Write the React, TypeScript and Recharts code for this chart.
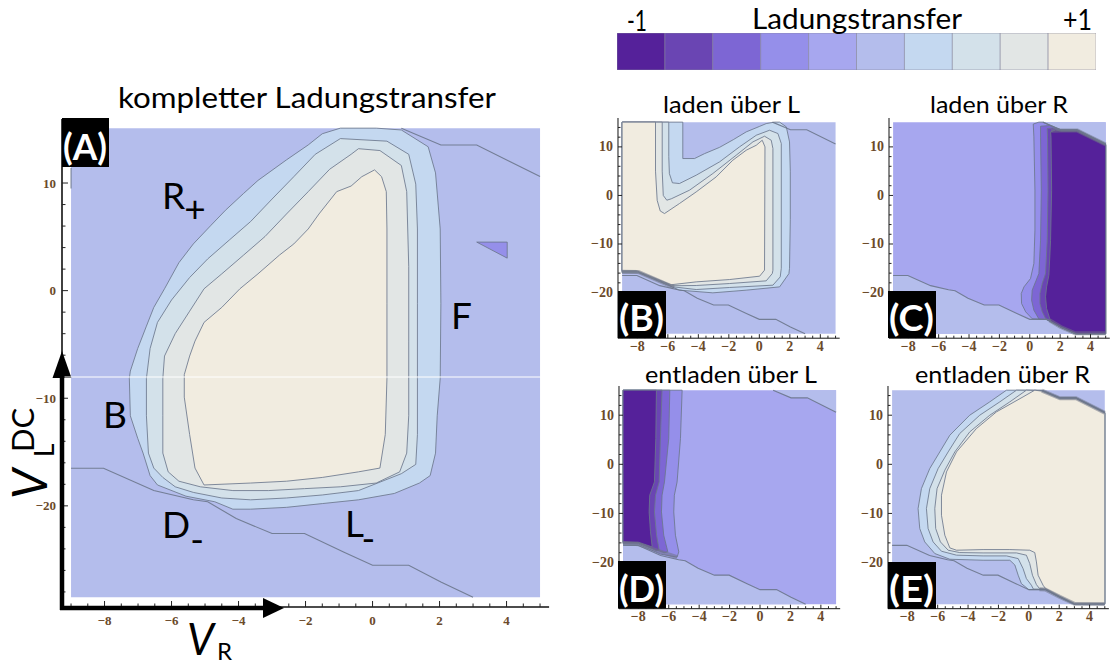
import React from 'react';
import { ScatterChart, Scatter, XAxis, YAxis, BarChart, Bar, Cell } from 'recharts';

type P = [number, number];
type Layer = { pts: P[]; level: number; edge: boolean };
type Box = { left: number; top: number; width: number; height: number };

// ---------- colour scale (Ladungstransfer -1 .. +1, 10 steps) ----------
const LEVEL_COLORS = ['#55219a', '#6a45b3', '#7d66d4', '#958fea', '#a7a7ef', '#b4bdec', '#c4d8f0', '#d3e1ea', '#e2e6e5', '#f1ece0'];
const COLORBAR_MIDS = [-0.9, -0.7, -0.5, -0.3, -0.1, 0.1, 0.3, 0.5, 0.7, 0.9];

// ---------- axes ----------
const X_DOMAIN: [number, number] = [-9.27, 5.27];
const Y_DOMAIN: [number, number] = [-29.4, 15.95];
const X_TICKS = [-9, -8.5, -8, -7.5, -7, -6.5, -6, -5.5, -5, -4.5, -4, -3.5, -3, -2.5, -2, -1.5, -1, -0.5, 0, 0.5, 1, 1.5, 2, 2.5, 3, 3.5, 4, 4.5, 5];
const X_MAJOR = [-8, -6, -4, -2, 0, 2, 4];
const Y_TICKS = [-28, -26, -24, -22, -20, -18, -16, -14, -12, -10, -8, -6, -4, -2, 0, 2, 4, 6, 8, 10, 12, 14];
const Y_MAJOR = [-20, -10, 0, 10];

// ---------- shared geometry (V_R, V_L^DC) ----------
const FILL_RECT: P[] = [[-9, 15.1], [5, 15.1], [5, -28.5], [-9, -28.5]];
const LOWER_LINE: P[] = [[-9, -16.5], [-8.03, -16.5], [-6.53, -18.58], [-5.35, -19.44], [-4.92, -19.62], [-4.07, -21.18], [-3.0, -22.57], [-2.03, -22.57], [-0.85, -24.31], [0.0, -25.52], [1.08, -25.52], [2.04, -27.08], [3.0, -28.5]];
const UPPER_LINE: P[] = [[0.86, 15.1], [2.04, 13.54], [3.11, 13.54], [5, 10.6]];
const LOWER_REGION: P[] = [[-9, -16.5], [-8.03, -16.5], [-6.53, -18.58], [-5.35, -19.44], [-4.92, -19.62], [-4.07, -21.18], [-3.0, -22.57], [-2.03, -22.57], [-0.85, -24.31], [0.0, -25.52], [1.08, -25.52], [2.04, -27.08], [3.0, -28.5], [-9, -28.5]];
const UPPER_REGION: P[] = [[0.86, 15.1], [2.04, 13.54], [3.11, 13.54], [5, 10.6], [5, 15.1]];

// ---------- (A) kompletter Ladungstransfer ----------
const A_RING1: P[] = [[-0.96, 15.1], [0.11, 15.1], [0.86, 14.93], [1.66, 13.37], [1.88, 10.94], [2.02, 5.73], [2.04, -1.22], [2.02, -8.16], [1.93, -11.63], [1.88, -15.1], [1.72, -17.19], [1.4, -17.88], [0.65, -18.85], [-0.42, -19.44], [-1.5, -19.79], [-2.57, -20.14], [-3.64, -20.31], [-4.17, -20.31], [-4.71, -19.62], [-5.57, -19.1], [-6.42, -18.06], [-6.64, -17.19], [-6.85, -15.1], [-7.01, -13.72], [-7.23, -11.63], [-7.26, -8.16], [-7.23, -7.47], [-7.01, -5.38], [-6.75, -3.3], [-6.53, -1.56], [-6.21, 0.17], [-5.78, 2.6], [-5.35, 4.34], [-4.82, 6.08], [-4.39, 7.47], [-3.85, 9.03], [-3.42, 10.24], [-2.57, 12.15], [-1.92, 13.54], [-1.5, 14.58]];
const A_RING2: P[] = [[-0.96, 14.13], [0.43, 13.89], [1.08, 12.67], [1.29, 9.9], [1.34, 5.73], [1.34, -1.22], [1.34, -8.16], [1.34, -13.37], [1.29, -16.15], [0.86, -17.01], [-0.42, -18.58], [-1.5, -18.99], [-2.57, -19.27], [-3.64, -19.44], [-4.5, -19.27], [-5.35, -18.75], [-5.89, -18.23], [-6.26, -17.36], [-6.53, -16.49], [-6.69, -15.1], [-6.75, -11.63], [-6.75, -8.16], [-6.64, -5.38], [-6.42, -2.95], [-6.0, -0.87], [-5.46, 1.22], [-4.92, 2.95], [-4.28, 4.69], [-3.64, 6.42], [-3.0, 8.51], [-2.35, 10.59], [-1.71, 12.67]];
const A_RING3: P[] = [[-0.42, 13.19], [0.22, 13.02], [0.86, 11.63], [1.02, 9.2], [1.08, 2.26], [1.08, -4.69], [1.08, -11.63], [1.02, -15.1], [0.81, -16.84], [0.11, -17.88], [-0.96, -18.23], [-2.03, -18.4], [-3.1, -18.58], [-4.17, -18.58], [-5.14, -18.23], [-5.78, -17.71], [-6.1, -16.84], [-6.26, -15.1], [-6.26, -11.63], [-6.26, -8.16], [-6.21, -6.08], [-5.89, -3.99], [-5.46, -1.91], [-5.03, 0.17], [-4.5, 1.56], [-3.85, 3.3], [-3.21, 5.03], [-2.57, 7.12], [-1.92, 9.2], [-1.28, 11.28], [-0.64, 12.67]];
const A_CORE: P[] = [[0.06, 11.22], [0.27, 10.59], [0.41, 9.2], [0.43, 5.73], [0.43, -1.22], [0.43, -8.16], [0.38, -13.37], [0.22, -16.49], [-0.42, -16.84], [-1.5, -17.36], [-2.57, -17.71], [-3.64, -17.88], [-5.03, -18.06], [-5.3, -16.49], [-5.46, -13.37], [-5.62, -9.9], [-5.62, -7.81], [-5.46, -6.08], [-5.3, -4.69], [-5.03, -2.95], [-4.5, -1.56], [-3.96, 0.17], [-3.42, 1.56], [-2.78, 3.3], [-2.35, 4.34], [-1.92, 5.73], [-1.6, 7.12], [-1.07, 9.2], [-0.64, 9.72], [-0.32, 10.59]];
const A_TRIANGLE: P[] = [[3.11, 4.51], [4.02, 4.51], [4.02, 3.02]];
const A_EDGE_LINE: P[] = [[-9, 11.4], [-9, 9.5]];

// ---------- (B) laden über L ----------
const B_L1: P[] = [[-9, 15.1], [-5.02, 15.1], [-5.02, 7.6], [-4.25, 7.6], [-3.6, 8.6], [-2.61, 9.9], [-1.7, 11.5], [-0.86, 13.09], [0.0, 14.2], [0.45, 14.8], [1.0, 15.1], [1.33, 15.1], [1.77, 14.12], [1.98, 11.03], [2.03, 5], [2.03, -5], [1.98, -15], [1.94, -16.1], [1.33, -18.83], [-0.86, -19.51], [-3.05, -20.06], [-5.24, -19.51], [-5.6, -19.0], [-7.9, -15.95], [-9, -15.95]];
const B_L2: P[] = [[-9, 15.1], [-5.94, 15.1], [-5.94, 8], [-5.9, 4.5], [-5.7, 2.6], [-5.24, 2.45], [-4.14, 4.17], [-2.61, 6.91], [-1.3, 10], [-0.2, 12.4], [0.67, 13.43], [1.22, 12.75], [1.44, 10.69], [1.44, -15], [1.37, -16.77], [0.89, -18.48], [-1.95, -18.96], [-4.14, -19.38], [-5.7, -18.8], [-7.95, -15.8], [-9, -15.8]];
const B_L3: P[] = [[-9, 15.1], [-6.37, 15.1], [-6.37, 5], [-6.3, 0], [-6.07, -0.98], [-5.78, -0.7], [-4.58, 1.08], [-3.05, 4.51], [-1.52, 8.28], [-0.42, 11.03], [0.34, 12.2], [0.78, 11.37], [0.89, 9.66], [0.89, -15.4], [0.85, -16.08], [0.45, -17.59], [-1.95, -18.14], [-4.14, -18.55], [-5.75, -18.6], [-8.0, -15.65], [-9, -15.65]];
const B_L4: P[] = [[-9, 15.1], [-6.81, 15.1], [-6.81, 5], [-6.7, -1], [-6.5, -3.2], [-6.22, -3.73], [-5.24, -1.67], [-4.14, 0.73], [-2.83, 3.82], [-1.74, 7.25], [-0.86, 9.31], [-0.2, 10.34], [0.19, 11.37], [0.37, 10], [0.34, -15.39], [0.02, -16.63], [-1.95, -17.32], [-4.14, -17.8], [-5.8, -18.4], [-8.05, -15.5], [-9, -15.5]];
const B_BAND: P[] = [[-9, -15.7], [-7.95, -15.75], [-5.6, -18.95]];

// ---------- (C) laden über R ----------
const C_L4: P[] = [[0.23, 14.7], [0.6, 15.1], [0.86, 15.1], [2.04, 13.54], [3.11, 13.54], [5, 10.6], [5, -28.5], [3, -28.5], [2.04, -27.08], [1.08, -25.52], [0.16, -25.4], [-0.27, -23.97], [-0.54, -22.26], [-0.56, -20.2], [-0.38, -18.83], [0.05, -17.11], [0.27, -14.02], [0.34, -7.16], [0.34, 1.08], [0.27, 12.06]];
const C_L3: P[] = [[0.71, 14.26], [1.3, 14.4], [2.04, 13.45], [3.11, 13.45], [5, 10.5], [5, -28.5], [3, -28.5], [2.04, -27.08], [1.08, -25.52], [0.6, -25.45], [0.27, -23.63], [0.12, -21.57], [0.16, -19.51], [0.38, -17.8], [0.6, -16.08], [0.71, -9.22], [0.76, 1.08], [0.71, 12]];
const C_L2: P[] = [[1.15, 13.77], [1.5, 13.9], [2.04, 13.4], [3.11, 13.4], [5, 10.45], [5, -28.5], [3.05, -28.5], [2.04, -27.15], [1.3, -25.65], [1.04, -25.35], [0.82, -23.97], [0.67, -22.26], [0.67, -20.2], [0.82, -18.14], [1.04, -16.08], [1.15, -9.22], [1.2, 1.08], [1.17, 12]];
const C_L1: P[] = [[1.37, 13.09], [1.7, 13.5], [2.04, 13.25], [3.11, 13.25], [5, 10.35], [5, -28.5], [3.1, -28.5], [2.1, -27.3], [1.37, -25.9], [1.11, -23.29], [1.04, -20.88], [1.11, -18.83], [1.26, -16.42], [1.37, -9.22], [1.44, 1.08], [1.4, 12]];
const C_BAND_TOP: P[] = [[1.4, 13.3], [2.04, 13.4], [3.11, 13.4], [5, 10.5]];
const C_BAND_BOTTOM: P[] = [[1.3, -25.7], [2.04, -27.1], [3.0, -28.4], [5, -28.4]];

// ---------- (D) entladen über L ----------
const D_L4: P[] = [[-9, 15.1], [-5.12, 15.1], [-5.23, 5.25], [-5.45, -3.58], [-5.63, -6.29], [-5.67, -9.69], [-5.56, -14.44], [-5.34, -17.83], [-5.45, -18.9], [-6.53, -18.3], [-8.0, -16.25], [-9, -16.2]];
const D_L3: P[] = [[-9, 15.1], [-5.93, 15.1], [-6.0, 5.25], [-6.28, -3.58], [-6.44, -6.29], [-6.48, -9.69], [-6.33, -14.44], [-6.06, -17.83], [-6.3, -18.0], [-8.0, -16.1], [-9, -16.05]];
const D_L2: P[] = [[-9, 15.1], [-6.44, 15.1], [-6.55, 5.25], [-6.63, -3.58], [-6.87, -6.29], [-6.94, -9.69], [-6.8, -14.44], [-6.63, -17.49], [-6.8, -17.6], [-8.0, -15.95], [-9, -15.95]];
const D_L1: P[] = [[-9, 15.1], [-6.81, 15.1], [-6.85, 5.25], [-6.94, -3.58], [-7.25, -6.29], [-7.29, -9.69], [-7.2, -13.76], [-7.09, -16.82], [-8.0, -15.85], [-9, -15.8]];
const D_BAND: P[] = [[-9, -16.0], [-7.97, -16.3], [-5.45, -18.9]];

// ---------- (E) entladen über R ----------
const E_L1: P[] = [[-1.47, 15.1], [-2.57, 12.72], [-3.89, 10.0], [-5.2, 5.93], [-5.86, 2.53], [-6.52, -0.86], [-7.07, -4.94], [-7.29, -9.01], [-7.18, -13.08], [-6.85, -15.8], [-6.19, -18.17], [-5.2, -19.33], [-3.01, -19.53], [-1.25, -19.53], [-0.92, -20.5], [-0.7, -22.59], [-0.49, -24.29], [0, -25.52], [1.08, -25.52], [2.04, -27.08], [3, -28.5], [5, -28.5], [5, 10.6], [3.11, 13.54], [2.04, 13.54], [0.86, 15.1]];
const E_L2: P[] = [[-0.81, 15.1], [-1.91, 12.72], [-3.23, 10], [-4.55, 6.27], [-5.31, 2.53], [-5.97, -0.86], [-6.52, -4.94], [-6.74, -9.01], [-6.63, -13.08], [-6.3, -15.8], [-5.75, -17.7], [-4.76, -18.5], [-3.01, -18.65], [-1.47, -18.65], [-0.7, -19.2], [-0.38, -21.23], [-0.16, -23.27], [0.17, -24.63], [0.3, -25.4], [1.08, -25.45], [2.04, -27.02], [3, -28.45], [5, -28.45], [5, 10.55], [3.11, 13.5], [2.04, 13.5], [0.86, 15.05]];
const E_L3: P[] = [[-0.16, 15.1], [-1.25, 12.72], [-2.57, 10], [-3.89, 6.6], [-4.87, 2.53], [-5.53, -1.2], [-6.04, -4.94], [-6.19, -9.01], [-6.13, -13.08], [-5.82, -15.8], [-5.31, -17.49], [-4.55, -17.97], [-3.01, -18.04], [-0.81, -18.04], [-0.16, -18.51], [0.06, -20.21], [0.24, -22.59], [0.5, -24.49], [0.7, -25.3], [1.08, -25.4], [2.04, -26.95], [3, -28.4], [5, -28.4], [5, 10.5], [3.11, 13.45], [2.04, 13.45], [0.86, 15.0]];
const E_L4: P[] = [[0.39, 15.1], [-0.38, 13.73], [-2.13, 10.68], [-3.45, 7.28], [-4.76, 2.53], [-5.42, -1.54], [-5.75, -6.29], [-5.75, -10.37], [-5.53, -14.44], [-5.2, -17.02], [-4.76, -17.49], [-3.01, -17.36], [-1.25, -17.36], [0.06, -17.49], [0.39, -17.97], [0.5, -19.87], [0.61, -22.59], [0.94, -24.63], [1.1, -25.3], [2.04, -26.85], [3, -28.3], [5, -28.35], [5, 10.4], [3.11, 13.35], [2.04, 13.35], [0.86, 14.9]];
const E_BAND_TOP: P[] = [[0.86, 15.0], [2.04, 13.45], [3.11, 13.45], [5, 10.5]];
const E_BAND_BOTTOM: P[] = [[0.7, -25.45], [1.08, -25.5], [2.04, -27.0], [3.0, -28.4], [5, -28.45]];

// ---------- layer tables ----------
const A_LAYERS: Layer[] = [
  { pts: FILL_RECT, level: 5, edge: false },
  { pts: A_RING1, level: 6, edge: true },
  { pts: A_RING2, level: 7, edge: true },
  { pts: A_RING3, level: 8, edge: true },
  { pts: A_CORE, level: 9, edge: true },
  { pts: A_TRIANGLE, level: 3, edge: true },
];
const B_LAYERS: Layer[] = [
  { pts: FILL_RECT, level: 5, edge: false },
  { pts: B_L1, level: 6, edge: true },
  { pts: B_L2, level: 7, edge: true },
  { pts: B_L3, level: 8, edge: true },
  { pts: B_L4, level: 9, edge: true },
];
const C_LAYERS: Layer[] = [
  { pts: FILL_RECT, level: 4, edge: false },
  { pts: LOWER_REGION, level: 5, edge: false },
  { pts: UPPER_REGION, level: 5, edge: false },
  { pts: C_L4, level: 3, edge: true },
  { pts: C_L3, level: 2, edge: true },
  { pts: C_L2, level: 1, edge: true },
  { pts: C_L1, level: 0, edge: true },
];
const D_LAYERS: Layer[] = [
  { pts: FILL_RECT, level: 4, edge: false },
  { pts: LOWER_REGION, level: 5, edge: false },
  { pts: UPPER_REGION, level: 5, edge: false },
  { pts: D_L4, level: 3, edge: true },
  { pts: D_L3, level: 2, edge: true },
  { pts: D_L2, level: 1, edge: true },
  { pts: D_L1, level: 0, edge: true },
];
const E_LAYERS: Layer[] = [
  { pts: FILL_RECT, level: 5, edge: false },
  { pts: E_L1, level: 6, edge: true },
  { pts: E_L2, level: 7, edge: true },
  { pts: E_L3, level: 8, edge: true },
  { pts: E_L4, level: 9, edge: true },
];

// ---------- layout ----------
const A_BOX: Box = { left: 62.4, top: 118.7, width: 487.1, height: 488 };
const B_BOX: Box = { left: 618.4, top: 117.8, width: 221.7, height: 220.2 };
const C_BOX: Box = { left: 888.6, top: 117.8, width: 220.8, height: 220.2 };
const D_BOX: Box = { left: 618.6, top: 385.8, width: 221.2, height: 222.7 };
const E_BOX: Box = { left: 888.2, top: 385.8, width: 220.9, height: 222.7 };

const LABEL_FONT = '"Liberation Serif", "DejaVu Serif", serif';
const LABEL_COLOR = '#6b4a2a';
const TEXT_FONT = 'Lato, "Open Sans", sans-serif';
const CONTOUR = '#6c778c';

const fmt = (v: number) => (v < 0 ? '\u2212' + Math.abs(v) : String(v));
const toObjs = (pts: P[], close: boolean) => {
  const arr = pts.map(([x, y]) => ({ x, y }));
  if (close) arr.push({ x: pts[0][0], y: pts[0][1] });
  return arr;
};
const NoShape = () => <g />;

type PanelProps = {
  box: Box;
  layers: Layer[];
  lines: P[][];
  bands: P[][];
  fontSize: number;
  xLabelDy: number;
  yLabelGap: number;
  majorLen: number;
  minorLen: number;
  frameWidth: number;
};

function Panel({ box, layers, lines, bands, fontSize, xLabelDy, yLabelGap, majorLen, minorLen, frameWidth }: PanelProps) {
  const padL = 44, padB = 30, padT = 4, padR = 4;
  const w = box.width + padL + padR;
  const h = box.height + padT + padB;
  const tickColor = '#222';
  const labelProps = { fontFamily: LABEL_FONT, fontSize, fontWeight: 'bold' as const, fill: LABEL_COLOR };

  const bottomTick = (p: any) => {
    const v = p.payload.value;
    const major = X_MAJOR.includes(v);
    return (
      <g>
        <line x1={p.x} x2={p.x} y1={p.y} y2={p.y - (major ? majorLen : minorLen)} stroke={tickColor} strokeWidth={1} />
        {major && <text x={p.x} y={p.y + xLabelDy} textAnchor="middle" {...labelProps}>{fmt(v)}</text>}
      </g>
    );
  };
  const topTick = (p: any) => {
    const v = p.payload.value;
    const major = X_MAJOR.includes(v);
    return <line x1={p.x} x2={p.x} y1={p.y} y2={p.y + (major ? majorLen : minorLen)} stroke={tickColor} strokeWidth={1} />;
  };
  const leftTick = (p: any) => {
    const v = p.payload.value;
    const major = Y_MAJOR.includes(v);
    return (
      <g>
        <line x1={p.x} x2={p.x + (major ? majorLen : minorLen)} y1={p.y} y2={p.y} stroke={tickColor} strokeWidth={1} />
        {major && <text x={p.x - yLabelGap} y={p.y} textAnchor="end" dominantBaseline="central" {...labelProps}>{fmt(v)}</text>}
      </g>
    );
  };
  const rightTick = (p: any) => {
    const v = p.payload.value;
    const major = Y_MAJOR.includes(v);
    return <line x1={p.x} x2={p.x - (major ? majorLen : minorLen)} y1={p.y} y2={p.y} stroke={tickColor} strokeWidth={1} />;
  };

  return (
    <div style={{ position: 'absolute', left: box.left - padL, top: box.top - padT, width: w, height: h }}>
      <ScatterChart width={w} height={h} margin={{ top: padT, right: padR, bottom: 0, left: 0 }}>
        {layers.map((l, i) => (
          <Scatter
            key={'layer' + i}
            xAxisId="b"
            yAxisId="l"
            data={toObjs(l.pts, true)}
            fill={LEVEL_COLORS[l.level]}
            line={{ fill: LEVEL_COLORS[l.level], stroke: l.edge ? CONTOUR : 'none', strokeWidth: 1, strokeOpacity: 0.85 }}
            lineType="joint"
            shape={NoShape}
            isAnimationActive={false}
          />
        ))}
        {bands.map((b, i) => (
          <Scatter
            key={'band' + i}
            xAxisId="b"
            yAxisId="l"
            data={toObjs(b, false)}
            fill="none"
            line={{ fill: 'none', stroke: '#6f7486', strokeWidth: 4, strokeOpacity: 0.55, strokeLinejoin: 'round' }}
            lineType="joint"
            shape={NoShape}
            isAnimationActive={false}
          />
        ))}
        {lines.map((ln, i) => (
          <Scatter
            key={'line' + i}
            xAxisId="b"
            yAxisId="l"
            data={toObjs(ln, false)}
            fill="none"
            line={{ fill: 'none', stroke: CONTOUR, strokeWidth: 1.1, strokeOpacity: 0.9 }}
            lineType="joint"
            shape={NoShape}
            isAnimationActive={false}
          />
        ))}
        <XAxis xAxisId="b" type="number" dataKey="x" domain={X_DOMAIN} allowDataOverflow ticks={X_TICKS} interval={0}
          height={padB} tickSize={0} tickMargin={0} tickLine={false} axisLine={{ stroke: '#111', strokeWidth: frameWidth }} tick={bottomTick} />
        <XAxis xAxisId="t" orientation="top" type="number" dataKey="x" domain={X_DOMAIN} allowDataOverflow ticks={X_TICKS} interval={0}
          height={0} tickSize={0} tickMargin={0} tickLine={false} axisLine={{ stroke: '#111', strokeWidth: frameWidth }} tick={topTick} />
        <YAxis yAxisId="l" type="number" dataKey="y" domain={Y_DOMAIN} allowDataOverflow ticks={Y_TICKS} interval={0}
          width={padL} tickSize={0} tickMargin={0} tickLine={false} axisLine={{ stroke: '#111', strokeWidth: frameWidth }} tick={leftTick} />
        <YAxis yAxisId="r" orientation="right" type="number" dataKey="y" domain={Y_DOMAIN} allowDataOverflow ticks={Y_TICKS} interval={0}
          width={0} tickSize={0} tickMargin={0} tickLine={false} axisLine={{ stroke: '#111', strokeWidth: frameWidth }} tick={rightTick} />
      </ScatterChart>
    </div>
  );
}

const colorbarData = COLORBAR_MIDS.map((m) => ({ level: m, v: 1 }));

function PanelTag({ x, y, w, h, label }: { x: number; y: number; w: number; h: number; label: string }) {
  return (
    <g>
      <rect x={x} y={y} width={w} height={h} fill="#000" />
      <text x={x + 1} y={y + h - 7} fontFamily={TEXT_FONT} fontWeight="bold" fontSize={36} fill="#fff"
        textLength={w - 3} lengthAdjust="spacingAndGlyphs">{label}</text>
    </g>
  );
}

export default function App() {
  const small = { fontSize: 14, xLabelDy: 12.5, yLabelGap: 5, majorLen: 4, minorLen: 2.5, frameWidth: 1 };
  return (
    <div style={{ position: 'absolute', left: 0, top: 0, width: 1113, height: 664, background: '#fff', overflow: 'hidden' }}>
      <Panel box={A_BOX} layers={A_LAYERS} lines={[LOWER_LINE, UPPER_LINE, A_EDGE_LINE]} bands={[]}
        fontSize={13} xLabelDy={18} yLabelGap={6} majorLen={6} minorLen={3.5} frameWidth={1.6} />
      <Panel box={B_BOX} layers={B_LAYERS} lines={[LOWER_LINE, UPPER_LINE]} bands={[B_BAND]} {...small} />
      <Panel box={C_BOX} layers={C_LAYERS} lines={[LOWER_LINE, UPPER_LINE]} bands={[C_BAND_TOP, C_BAND_BOTTOM]} {...small} />
      <Panel box={D_BOX} layers={D_LAYERS} lines={[LOWER_LINE, UPPER_LINE]} bands={[D_BAND]} {...small} />
      <Panel box={E_BOX} layers={E_LAYERS} lines={[LOWER_LINE, UPPER_LINE]} bands={[E_BAND_TOP, E_BAND_BOTTOM]} {...small} />

      <div style={{ position: 'absolute', left: 617, top: 33 }}>
        <BarChart width={479} height={37} data={colorbarData} margin={{ top: 0, right: 0, bottom: 0, left: 0 }} barCategoryGap={0} barGap={0}>
          <XAxis dataKey="level" hide />
          <YAxis hide domain={[0, 1]} />
          <Bar dataKey="v" isAnimationActive={false} stroke="#85859c" strokeOpacity={0.6} strokeWidth={1}>
            {colorbarData.map((d, i) => <Cell key={'c' + i} fill={LEVEL_COLORS[i]} />)}
          </Bar>
        </BarChart>
      </div>

      <svg width={1113} height={664} style={{ position: 'absolute', left: 0, top: 0, pointerEvents: 'none' }}>
        <g fontFamily={TEXT_FONT} fill="#000">
          {/* colour bar labels */}
          <text x={627} y={31} fontSize={28} textLength={20} lengthAdjust="spacingAndGlyphs">-1</text>
          <text x={752} y={28.5} fontSize={28} textLength={210} lengthAdjust="spacingAndGlyphs">Ladungstransfer</text>
          <text x={1063} y={30} fontSize={28} textLength={29} lengthAdjust="spacingAndGlyphs">+1</text>
          {/* titles */}
          <text x={118} y={108} fontSize={28} textLength={378} lengthAdjust="spacingAndGlyphs">kompletter Ladungstransfer</text>
          <text x={663} y={112.5} fontSize={24} textLength={137} lengthAdjust="spacingAndGlyphs">laden über L</text>
          <text x={930} y={112.5} fontSize={24} textLength={138} lengthAdjust="spacingAndGlyphs">laden über R</text>
          <text x={645} y={383} fontSize={24} textLength={172} lengthAdjust="spacingAndGlyphs">entladen über L</text>
          <text x={915} y={383} fontSize={24} textLength={175} lengthAdjust="spacingAndGlyphs">entladen über R</text>
          {/* region letters in (A) */}
          <text x={162} y={209} fontSize={37}>R<tspan dx={-1} dy={13}>+</tspan></text>
          <text x={451} y={328.5} fontSize={37}>F</text>
          <text x={103} y={427.5} fontSize={37}>B</text>
          <text x={162} y={538} fontSize={37}>D<tspan dx={0} dy={15}>-</tspan></text>
          <text x={345} y={537} fontSize={37}>L<tspan dx={0} dy={15}>-</tspan></text>
          {/* axis titles */}
          <text x={187} y={655} fontSize={44} fontStyle="italic" textLength={27} lengthAdjust="spacingAndGlyphs">V</text>
          <text x={217} y={660} fontSize={24}>R</text>
          <text transform="translate(47,499) rotate(-90)" fontSize={48} fontStyle="italic">V</text>
          <text transform="translate(54,457) rotate(-90)" fontSize={26}>L</text>
          <text transform="translate(34,452) rotate(-90)" fontSize={31}>DC</text>
        </g>
        {/* arrows on (A) */}
        <line x1={62} y1={610} x2={62} y2={376} stroke="#000" strokeWidth={4.5} />
        <polygon points="62,351 52.5,378 71.5,378" fill="#000" />
        <line x1={60} y1={608} x2={264} y2={608} stroke="#000" strokeWidth={4.5} />
        <polygon points="284,608 263,598 263,618" fill="#000" />
        <line x1={64.5} y1={377} x2={549} y2={377} stroke="#fff" strokeWidth={1} />
        {/* panel tags */}
        <PanelTag x={62} y={118} w={47} h={49} label="(A)" />
        <PanelTag x={618} y={291} w={48} h={47} label="(B)" />
        <PanelTag x={888} y={291} w={48} h={47} label="(C)" />
        <PanelTag x={618} y={561} w={48} h={47.5} label="(D)" />
        <PanelTag x={888} y={562} w={48} h={47} label="(E)" />
      </svg>
    </div>
  );
}
